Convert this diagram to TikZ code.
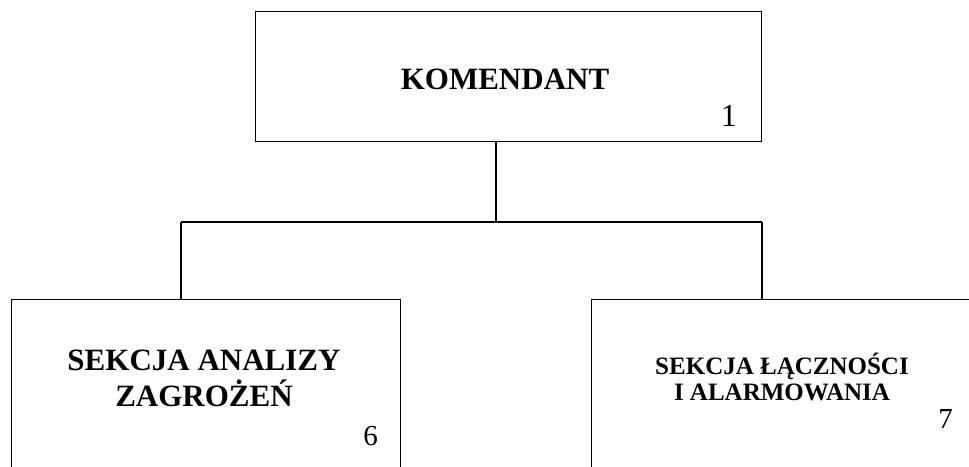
\documentclass[tikz,border=0pt]{standalone}
\usepackage{fontspec}
\setmainfont{Liberation Serif}
\usepackage{tikz}
\usetikzlibrary{positioning}

\tikzset{
  box/.style={draw, line width=1.1pt, rectangle, inner sep=0pt},
  title/.style={font=\bfseries\fontsize{31}{36}\selectfont, align=center, inner sep=0pt},
  smalltitle/.style={font=\bfseries\fontsize{25}{26}\selectfont, align=center, inner sep=0pt},
  num/.style={font=\fontsize{29}{29}\selectfont, inner sep=0pt, anchor=base east},
  line/.style={line width=1.1pt}
}

\begin{document}
\begin{tikzpicture}[x=1pt, y=1pt]
  \clip (0,0) rectangle (969,-466);
  \fill[white] (0,0) rectangle (969,-466);

  % boxes
  \node[box, minimum width=506pt, minimum height=130pt, anchor=north west] (komendant) at (255,-11) {};
  \node[box, minimum width=389pt, minimum height=220pt, anchor=north west] (analiza) at (11,-299) {};
  \node[box, minimum width=420pt, minimum height=220pt, anchor=north west] (lacznosc) at (591,-299) {};

  % texts
  \node[title] (komendantT) at (505,-79) {KOMENDANT};
  \node[title] (analizaT) at (204,-378) {SEKCJA ANALIZY\\ZAGROŻEŃ};
  \node[smalltitle] (lacznoscT) at (782,-377) {SEKCJA ŁĄCZNOŚCI\\I ALARMOWANIA};

  \node[num, font=\fontsize{32}{32}\selectfont] (n1) at (737,-126) {1};
  \node[num] (n6) at (378,-445) {6};
  \node[num] (n7) at (953,-428) {7};

  % connectors
  \coordinate (split) at (496,-222);
  \coordinate (lewy) at (181,-222);
  \coordinate (prawy) at (762,-222);
  \draw[line] (komendant.south -| split) -- (split);
  \draw[line] (lewy) -- (prawy);
  \draw[line] (lewy) -- (lewy |- analiza.north);
  \draw[line] (prawy) -- (prawy |- lacznosc.north);
\end{tikzpicture}
\end{document}
